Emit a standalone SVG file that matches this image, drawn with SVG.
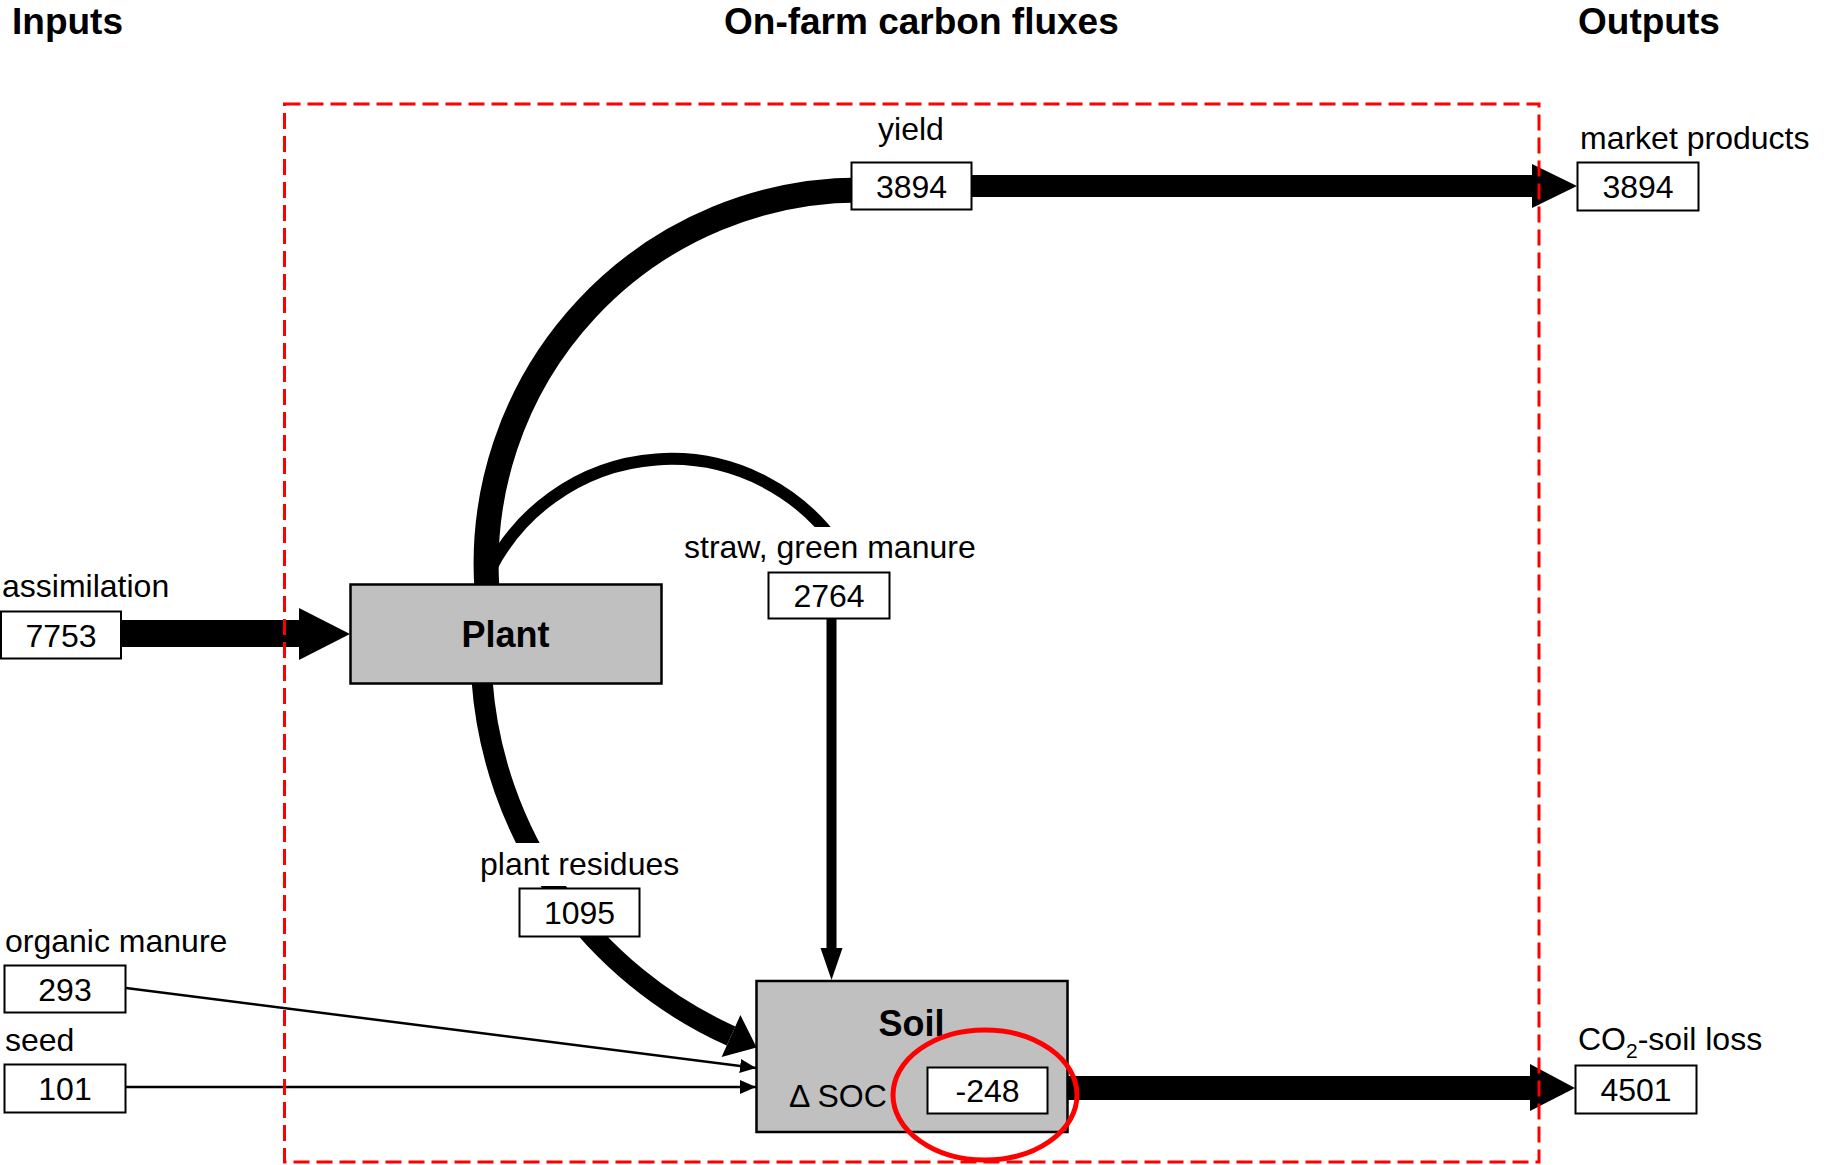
<svg xmlns="http://www.w3.org/2000/svg" width="1826" height="1165" viewBox="0 0 1826 1165">
<style>
text{font-family:"Liberation Sans",Arial,sans-serif;fill:#000}
.title{font-size:37px;font-weight:bold}
.lbl{font-size:32px}
.num{font-size:32px;text-anchor:middle}
.node{font-size:36px;font-weight:bold;text-anchor:middle}
.vbox{fill:#fff;stroke:#000;stroke-width:2}
.gbox{fill:#c0c0c0;stroke:#000;stroke-width:2.5}
.flow{fill:none;stroke:#000}
.thin{fill:none;stroke:#000;stroke-width:2.5}
.bg{fill:#fff;stroke:none}
</style>
<defs>
<marker id="thinHead" markerUnits="userSpaceOnUse" markerWidth="16" markerHeight="14" viewBox="0 0 16 14" refX="16" refY="7" orient="auto">
<path d="M0,0 L16,7 L0,14 z" fill="#000"/>
</marker>
</defs>
<rect width="1826" height="1165" fill="#fff"/>

<g id="titles">
<text class="title" x="12" y="34">Inputs</text>
<text class="title" x="724" y="34">On-farm carbon fluxes</text>
<text class="title" x="1578" y="34">Outputs</text>
</g>

<g id="connectors">
<!-- yield arc -->
<path class="flow" stroke-width="25" d="M487 590 A374 374 0 0 1 860 190 L880 187"/>
<!-- straw arc -->
<path class="flow" stroke-width="12" d="M490 570 A203 203 0 0 1 837 545"/>
<!-- residue arc -->
<path class="flow" stroke-width="21" d="M482 680 A424 424 0 0 0 731 1036"/>
<polygon points="740.4,1015 756.6,1047.5 721.6,1057" fill="#000"/>
<!-- yield -> market products -->
<path d="M972 175 H1533 V197 H972 Z" fill="#000"/>
<polygon points="1532,164 1577,186 1532,208" fill="#000"/>
<!-- assimilation -> plant -->
<path d="M121 620 H300 V647 H121 Z" fill="#000"/>
<polygon points="299,608 350,634 299,660" fill="#000"/>
<!-- soil -> CO2 loss -->
<path d="M1068 1076 H1531 V1100 H1068 Z" fill="#000"/>
<polygon points="1530,1064 1575,1088 1530,1111" fill="#000"/>
<!-- straw -> soil -->
<path class="flow" stroke-width="10" d="M831.5 619 V950"/>
<polygon points="820.5,948 842.5,948 831.5,980" fill="#000"/>
<!-- organic manure, seed -->
<line class="thin" x1="126" y1="988" x2="756" y2="1068" marker-end="url(#thinHead)"/>
<line class="thin" x1="126" y1="1087" x2="756" y2="1087" marker-end="url(#thinHead)"/>
</g>

<rect id="farm-boundary" x="284.5" y="104" width="1254.5" height="1058" fill="none" stroke="#ff0000" stroke-width="3" stroke-dasharray="16 7"/>

<g id="plant">
<rect class="gbox" x="350.5" y="584.5" width="311" height="99"/>
<text class="node" x="505.5" y="647">Plant</text>
</g>

<g id="soil">
<rect class="gbox" x="756.5" y="981" width="311" height="151"/>
<text class="node" x="911.5" y="1036">Soil</text>
<text class="lbl" x="789" y="1107">Δ SOC</text>
<rect class="vbox" x="927.5" y="1067.5" width="120" height="46"/>
<text class="num" x="987.5" y="1102">-248</text>
<ellipse cx="985" cy="1095" rx="92" ry="65" fill="none" stroke="#ff0000" stroke-width="5"/>
</g>

<g id="yield">
<text class="lbl" x="911" y="140" text-anchor="middle">yield</text>
<rect class="vbox" x="851.5" y="162.5" width="120" height="47"/>
<text class="num" x="911.5" y="197.5">3894</text>
</g>

<g id="market-products">
<text class="lbl" x="1580" y="149">market products</text>
<rect class="vbox" x="1577.5" y="162.5" width="121" height="48"/>
<text class="num" x="1638" y="198">3894</text>
</g>

<g id="assimilation">
<text class="lbl" x="2" y="597">assimilation</text>
<rect class="vbox" x="1" y="611.5" width="120" height="47"/>
<text class="num" x="61" y="646.5">7753</text>
</g>

<g id="straw">
<rect class="bg" x="680" y="527" width="300" height="40"/>
<text class="lbl" x="684" y="558">straw, green manure</text>
<rect class="vbox" x="768.5" y="572.5" width="121" height="46"/>
<text class="num" x="829" y="607">2764</text>
</g>

<g id="plant-residues">
<rect class="bg" x="476" y="843" width="206" height="43"/>
<text class="lbl" x="480" y="875">plant residues</text>
<rect class="vbox" x="519.5" y="888.5" width="120" height="48"/>
<text class="num" x="579.5" y="924">1095</text>
</g>

<g id="organic-manure">
<text class="lbl" x="5" y="952">organic manure</text>
<rect class="vbox" x="4.5" y="965.5" width="121" height="47"/>
<text class="num" x="65" y="1000.5">293</text>
</g>

<g id="seed">
<text class="lbl" x="5" y="1051">seed</text>
<rect class="vbox" x="4.5" y="1064.5" width="121" height="48"/>
<text class="num" x="65" y="1100">101</text>
</g>

<g id="co2-soil-loss">
<text class="lbl" x="1578" y="1050">CO<tspan font-size="21" dy="8">2</tspan><tspan dy="-8">-soil loss</tspan></text>
<rect class="vbox" x="1575.5" y="1065.5" width="121" height="48"/>
<text class="num" x="1636" y="1101">4501</text>
</g>
</svg>
